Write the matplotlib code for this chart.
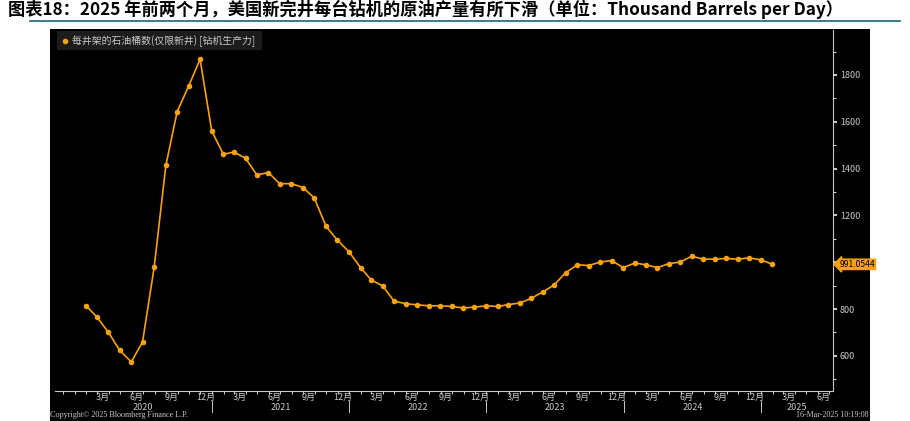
import numpy as np
import pandas as pd
import matplotlib
matplotlib.use("Agg")
import matplotlib.pyplot as plt
import matplotlib.dates as mdates
from matplotlib.lines import Line2D
from matplotlib.patches import Rectangle
import matplotlib.transforms as mtransforms

plt.rcParams['font.family'] = ['Noto Sans CJK SC', 'DejaVu Sans']

# data: monthly (month-end), Jan 2020 .. Jan 2025
dates = pd.date_range("2020-01-31", "2025-01-31", freq="ME")
values = [815, 767, 701, 624, 574, 660, 980, 1414, 1643, 1754,
          1867, 1561, 1461, 1471, 1444, 1373, 1383, 1335, 1336, 1319,
          1274, 1154, 1095, 1045, 977, 925, 899, 834, 823, 818,
          814, 814, 811, 805, 808, 814, 811, 819, 826, 846,
          873, 903, 956, 989, 986, 1001, 1007, 977, 997, 989,
          977, 994, 1001, 1026, 1013, 1013, 1016, 1013, 1019, 1010,
          991.0544]
series_name = "每井架的石油桶数(仅限新井) [钻机生产力]"
last_label = "991.0544"
title = "图表18：2025 年前两个月，美国新完井每台钻机的原油产量有所下滑（单位：Thousand Barrels per Day）"
years = [2020, 2021, 2022, 2023, 2024, 2025]
yticks = [600, 800, 1000, 1200, 1400, 1600, 1800]
ytick_labels = ["600", "800", "", "1200", "1400", "1600", "1800"]

orange = "#f7a20f"
grey = "#c8c8c8"

W, H = 910, 421
fig = plt.figure(figsize=(W / 100, H / 100), dpi=100)
fig.patch.set_facecolor("white")

# black panel behind the chart
fig.patches.append(Rectangle((50 / W, 0), 820 / W, (H - 29) / H,
                             transform=fig.transFigure, facecolor="black",
                             edgecolor="none", zorder=-5))

# title and rule
fig.text(8 / W, 1 - 9 / H, title, fontsize=12.4, fontweight="bold",
         color="black", va="center", ha="left")
fig.add_artist(Line2D([30 / W, 900 / W], [1 - 21 / H, 1 - 21 / H],
                      transform=fig.transFigure, color="#1f5f8b", lw=1.2))

ax = fig.add_axes([55 / W, 30 / H, (833 - 55) / W, (391 - 30) / H])
ax.set_facecolor("black")
ax.plot(dates, values, color=orange, lw=1.2, marker="o", ms=4,
        markeredgewidth=0, zorder=3)

x0, x1 = pd.Timestamp("2019-11-10"), pd.Timestamp("2025-07-11")
ax.set_xlim(x0, x1)
ax.set_ylim(450, 1992)

for s in ["top", "left"]:
    ax.spines[s].set_visible(False)
ax.spines["right"].set_color(grey)
ax.spines["bottom"].set_color(grey)

# y axis on the right
ax.yaxis.tick_right()
ax.set_yticks(yticks)
ax.set_yticklabels(ytick_labels)
ax.set_yticks(np.arange(500, 2000, 200), minor=True)
ax.tick_params(axis="y", which="major", colors=grey, labelsize=6.5,
               length=3, width=1.5, direction="out", pad=2)
ax.tick_params(axis="y", which="minor", colors=grey, length=2, width=0.8)

# x axis: month labels centred mid-month, minor ticks on month boundaries
label_dates = []
label_text = []
for y in years:
    for m in (3, 6, 9, 12):
        d = pd.Timestamp(y, m, 15)
        if d <= x1:
            label_dates.append(d)
            label_text.append(f"{m}月")
ax.set_xticks(label_dates)
ax.set_xticklabels(label_text)
ax.xaxis.set_minor_locator(mdates.MonthLocator())
ax.tick_params(axis="x", which="major", colors=grey, labelsize=6.5,
               length=0, pad=1.5)
ax.tick_params(axis="x", which="minor", colors=grey, length=2, width=0.8)

# year labels (centred on the visible part of each year) and separators
trans = mtransforms.blended_transform_factory(ax.transData, fig.transFigure)
for y in years:
    a = max(pd.Timestamp(y, 1, 1), x0)
    b = min(pd.Timestamp(y + 1, 1, 1), x1)
    mid = a + (b - a) / 2
    ax.text(mid, 1 - 408 / H, str(y), transform=trans,
            color=grey, fontsize=6.5, ha="center", va="center")
for y in years[1:]:
    ax.add_artist(Line2D([pd.Timestamp(y, 1, 1)] * 2,
                         [1 - 401 / H, 1 - 412 / H], transform=trans,
                         color=grey, lw=0.7, clip_on=False))

# legend
fig.patches.append(Rectangle((57 / W, 1 - 50 / H), 205 / W, 19 / H,
                             transform=fig.transFigure, facecolor="#1c1c1c",
                             edgecolor="none", zorder=1))
fig.add_artist(Line2D([65 / W], [1 - 41 / H], marker="o", ms=4,
                      color=orange, markeredgewidth=0,
                      transform=fig.transFigure))
fig.text(72 / W, 1 - 41 / H, series_name, fontsize=7.1, color=grey,
         va="center", ha="left")

# last value tag
ax.annotate(last_label, xy=(1, values[-1]),
            xycoords=("axes fraction", "data"),
            xytext=(4.5, 0), textcoords="offset points",
            fontsize=6.2, color="black", va="center", ha="left",
            bbox=dict(boxstyle="larrow,pad=0.08", fc=orange, ec=orange),
            annotation_clip=False)

# footer
fig.text(50 / W, 1 - 415 / H, "Copyright© 2025 Bloomberg Finance L.P.",
         fontsize=5.9, color=grey, family="Liberation Serif",
         va="center", ha="left")
fig.text(869 / W, 1 - 415 / H, "16-Mar-2025 10:19:08",
         fontsize=5.8, color=grey, family="Liberation Serif",
         va="center", ha="right")

fig.savefig("out.png", dpi=100, facecolor="white")
